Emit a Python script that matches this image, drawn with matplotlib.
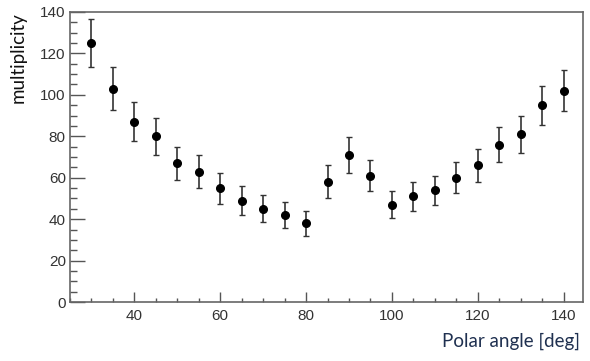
import numpy as np
import matplotlib.pyplot as plt
from matplotlib.ticker import MultipleLocator

plt.rcParams['font.family'] = 'Liberation Sans'

# polar angle bins and measured multiplicity
angles = [30, 35, 40, 45, 50, 55, 60, 65, 70, 75, 80, 85,
          90, 95, 100, 105, 110, 115, 120, 125, 130, 135, 140]
multiplicity = [125, 103, 87, 80, 67, 63, 55, 49, 45, 42, 38, 58,
                71, 61, 47, 51, 54, 60, 66, 76, 81, 95, 102]
errors = [11.5, 10.5, 9.5, 9, 8, 8, 7.5, 7, 6.5, 6.5, 6, 8,
          8.5, 7.5, 6.5, 7, 7, 7.5, 8, 8.5, 9, 9.5, 10]

fig = plt.figure(figsize=(5.9, 3.61), dpi=100)
ax = fig.add_axes([0.1186, 0.1634, 0.8694, 0.8034])

ax.errorbar(angles, multiplicity, yerr=errors, fmt='o', color='black',
            ecolor='#333333', elinewidth=1.2, capsize=2, capthick=1,
            markersize=5.5)

ax.set_xlim(25, 144.5)
ax.set_ylim(0, 140)
ax.xaxis.set_major_locator(MultipleLocator(20))
ax.xaxis.set_minor_locator(MultipleLocator(5))
ax.yaxis.set_major_locator(MultipleLocator(20))
ax.yaxis.set_minor_locator(MultipleLocator(5))

# ROOT style ticks pointing inside, only bottom and left
ax.tick_params(axis='y', which='major', direction='in', length=11, width=1,
               color='#555555', labelsize=11, labelcolor='#333333', pad=3)
ax.tick_params(axis='y', which='minor', direction='in', length=5, width=1,
               color='#555555')
ax.tick_params(axis='x', which='major', direction='in', length=7, width=1,
               color='#555555', labelsize=11, labelcolor='#333333', pad=5)
ax.tick_params(axis='x', which='minor', direction='in', length=3, width=1,
               color='#555555')

for s in ax.spines.values():
    s.set_color('#666666')
    s.set_linewidth(1.2)

fig.text(0.983, 0.03, 'Polar angle [deg]', ha='right', va='bottom',
         fontsize=13.5, color='#1f3050', family='Lato')
fig.text(0.03, 0.965, 'multiplicity', ha='center', va='top', rotation=90,
         fontsize=13.5, color='#111111', family='Lato')

fig.savefig('out.png', dpi=100)
